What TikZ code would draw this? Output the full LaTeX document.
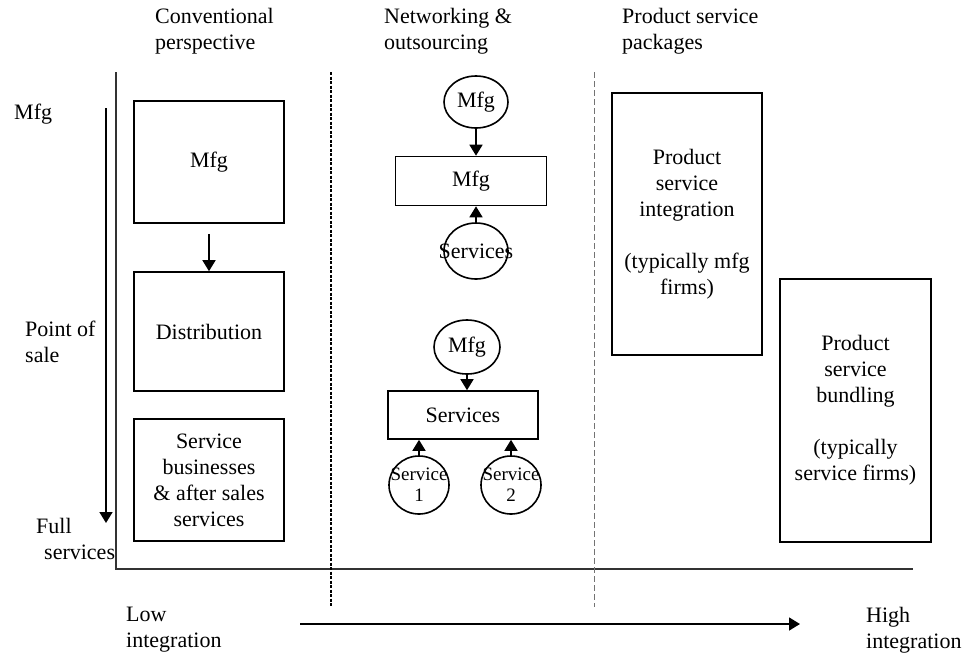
\documentclass[tikz,border=0pt]{standalone}
\usepackage{fontspec}
\setmainfont{Liberation Serif}
\usetikzlibrary{arrows.meta}
\usetikzlibrary{shapes.geometric}

\tikzset{
    box/.style={draw, line width=1.6pt, align=center, inner sep=0pt},
    oval/.style={draw, ellipse, line width=1.6pt, inner sep=0pt},
    arr/.style={-{Triangle[length=11pt,width=13pt]}, line width=1.6pt},
    txt/.style={anchor=west, align=left, inner sep=0pt},
    small/.style={font=\fontsize{19}{21}\selectfont, align=center}
}

\begin{document}
\begin{tikzpicture}[x=1pt, y=-1pt, font=\fontsize{22}{26}\selectfont]
                \useasboundingbox (0,0) rectangle (964,657);
                \coordinate (otop) at (116,72);
                \coordinate (orig) at (116,569);
                \coordinate (oend) at (913,569);

                % axes and column borders
                \draw[line width=2pt, black!80] (otop) -- (orig) -- (oend);
                \draw[line width=2pt, dash pattern=on 3pt off 1.5pt] (331,72) -- (331,607);
                \draw[line width=1pt, black!55, dash pattern=on 6pt off 3pt] (594,72) -- (594,607);

                % column headers
                \node[txt] (hconv) at (155,31) {Conventional\\perspective};
                \node[txt] (hnet) at (384,31) {Networking \&\\outsourcing};
                \node[txt] (hpsp) at (622,31) {Product service\\packages};

                % vertical scale
                \coordinate (vtop) at (106,108);
                \coordinate (vbot) at (106,523);
                \draw[arr] (vtop) -- (vbot);
                \node[txt] (lmfg) at (14,114) {Mfg};
                \node[txt] (lpos) at (25,342) {Point of\\sale};
                \node[txt] (lfull) at (36,539) {Full\\\hspace*{8pt}services};

                % conventional perspective
                \node[box, minimum width=150pt, minimum height=122pt] (cmfg) at (209,162) {Mfg};
                \node[box, minimum width=150pt, minimum height=119pt] (cdist) at (209,331.5) {Distribution};
                \node[box, minimum width=150pt, minimum height=122pt] (cserv) at (209,480)
                    {Service\\businesses\\\& after sales\\services};
                \draw[arr] ([yshift=-10pt]cmfg.south) -- (cdist.north);

                % networking & outsourcing
                \node[oval, minimum width=64pt, minimum height=52pt] (nmfga) at (476,102) {Mfg};
                \node[box, minimum width=151pt, minimum height=49pt] (nmfgbox) at (471,181) {Mfg};
                \node[oval, minimum width=64pt, minimum height=56pt, label={center:Services}] (nserva) at (476,251) {};
                \draw[arr] (nmfga.south) -- (nmfga.south |- nmfgbox.north);
                \draw[arr] (nserva.north) -- (nserva.north |- nmfgbox.south);

                \node[oval, minimum width=66pt, minimum height=54pt] (nmfgb) at (467,347) {Mfg};
                \node[box, minimum width=150pt, minimum height=48pt] (nservbox) at (463,415) {Services};
                \node[oval, minimum width=60pt, minimum height=58pt, label={[small]center:{Service\\1}}] (nsvc1) at (419,485) {};
                \node[oval, minimum width=60pt, minimum height=58pt, label={[small]center:{Service\\2}}] (nsvc2) at (511,485) {};
                \draw[arr] (nmfgb.south) -- (nmfgb.south |- nservbox.north);
                \draw[arr] (nsvc1.north) -- (nsvc1.north |- nservbox.south);
                \draw[arr] (nsvc2.north) -- (nsvc2.north |- nservbox.south);

                % product service packages
                \node[box, minimum width=150pt, minimum height=262pt] (pint) at (687,224)
                    {Product\\service\\integration\\[26pt](typically mfg\\firms)};
                \node[box, minimum width=151pt, minimum height=263pt] (pbun) at (855.5,410.5)
                    {Product\\service\\bundling\\[26pt](typically\\service firms)};

                % integration scale
                \coordinate (ilow) at (300,624);
                \coordinate (ihigh) at (800,624);
                \draw[arr] (ilow) -- (ihigh);
                \node[txt] (llow) at (126,630) {Low\\integration};
                \node[txt] (lhigh) at (866,630) {High\\integration};
            \end{tikzpicture}
\end{document}
